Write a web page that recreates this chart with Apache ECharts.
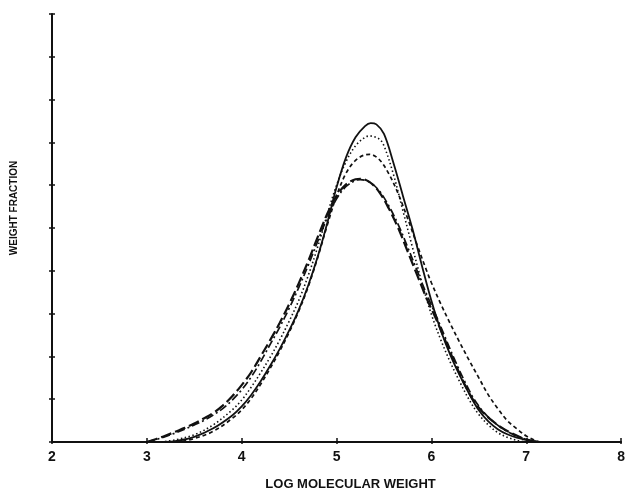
<!DOCTYPE html>
<html>
<head>
<meta charset="utf-8">
<script src="https://cdn.jsdelivr.net/npm/echarts@6/dist/echarts.min.js"></script>
<style>html,body{margin:0;padding:0;background:#fff;overflow:hidden}#c{width:628px;height:496px}</style>
</head>
<body>
<div id="c"></div>
<script>
const xTicks = [2, 3, 4, 5, 6, 7, 8];
const xTitle = 'LOG MOLECULAR WEIGHT';
const yTitle = 'WEIGHT FRACTION';

const solidCurve = [[3.2,0],[3.3,0.02],[3.5,0.12],[3.7,0.32],[3.9,0.62],[4.0,0.83],[4.1,1.1],[4.2,1.42],[4.3,1.78],[4.4,2.17],[4.5,2.6],[4.6,3.08],[4.7,3.65],[4.8,4.32],[4.9,5.1],[5.0,5.95],[5.1,6.65],[5.2,7.12],[5.3,7.38],[5.36,7.45],[5.42,7.42],[5.5,7.2],[5.6,6.52],[5.7,5.75],[5.8,4.98],[5.9,4.12],[6.0,3.3],[6.1,2.6],[6.2,2.03],[6.3,1.55],[6.4,1.12],[6.5,0.74],[6.6,0.48],[6.7,0.3],[6.8,0.18],[6.9,0.1],[7.0,0.05],[7.1,0.01],[7.15,0]];

const dottedCurve = [[3.15,0],[3.3,0.05],[3.5,0.17],[3.7,0.4],[3.9,0.75],[4.0,0.98],[4.1,1.28],[4.2,1.62],[4.3,1.98],[4.4,2.38],[4.5,2.82],[4.6,3.3],[4.7,3.88],[4.8,4.55],[4.9,5.3],[5.0,6.0],[5.1,6.55],[5.2,6.92],[5.3,7.12],[5.35,7.15],[5.45,7.08],[5.5,6.92],[5.6,6.25],[5.7,5.4],[5.8,4.55],[5.9,3.72],[6.0,2.98],[6.1,2.38],[6.2,1.86],[6.3,1.4],[6.4,0.98],[6.5,0.64],[6.6,0.4],[6.7,0.22],[6.8,0.11],[6.9,0.04],[7.0,0]];

const shortDashCurve = [[3.3,0],[3.4,0.03],[3.5,0.08],[3.7,0.25],[3.9,0.55],[4.0,0.75],[4.1,1.02],[4.2,1.35],[4.3,1.72],[4.4,2.12],[4.5,2.56],[4.6,3.05],[4.7,3.62],[4.8,4.3],[4.9,5.05],[5.0,5.75],[5.1,6.28],[5.2,6.58],[5.3,6.71],[5.35,6.72],[5.45,6.6],[5.55,6.27],[5.65,5.8],[5.75,5.22],[5.85,4.6],[5.95,4.0],[6.0,3.72],[6.1,3.22],[6.2,2.76],[6.3,2.32],[6.4,1.9],[6.5,1.5],[6.6,1.1],[6.7,0.78],[6.8,0.5],[6.9,0.31],[7.0,0.14],[7.1,0.03],[7.15,0]];

const longDashCurve = [[3.0,0],[3.1,0.07],[3.2,0.15],[3.3,0.24],[3.4,0.33],[3.5,0.43],[3.6,0.55],[3.7,0.68],[3.8,0.85],[3.9,1.07],[4.0,1.33],[4.1,1.63],[4.2,2.0],[4.3,2.38],[4.4,2.78],[4.5,3.22],[4.6,3.7],[4.7,4.22],[4.8,4.78],[4.9,5.32],[5.0,5.75],[5.1,6.02],[5.2,6.14],[5.25,6.15],[5.35,6.07],[5.45,5.84],[5.55,5.46],[5.65,5.0],[5.75,4.45],[5.85,3.9],[5.95,3.35],[6.05,2.87],[6.15,2.35],[6.25,1.83],[6.35,1.35],[6.45,0.95],[6.55,0.68],[6.65,0.48],[6.75,0.32],[6.85,0.2],[6.95,0.1],[7.05,0.03],[7.15,0]];

const dashDotCurve = [[3.0,0],[3.1,0.06],[3.2,0.13],[3.3,0.21],[3.4,0.3],[3.5,0.4],[3.6,0.5],[3.7,0.63],[3.8,0.78],[3.9,0.98],[4.0,1.22],[4.1,1.52],[4.2,1.88],[4.3,2.28],[4.4,2.68],[4.5,3.12],[4.6,3.6],[4.7,4.12],[4.8,4.68],[4.9,5.23],[5.0,5.68],[5.1,5.97],[5.2,6.11],[5.25,6.13],[5.35,6.07],[5.45,5.87],[5.55,5.52],[5.65,5.08],[5.75,4.55],[5.85,4.0],[5.95,3.45],[6.05,2.95],[6.15,2.42],[6.25,1.9],[6.35,1.42],[6.45,1.0],[6.55,0.7],[6.65,0.48],[6.75,0.31],[6.85,0.19],[6.95,0.1],[7.05,0.03],[7.15,0]];

const ink = '#111';
const font = 'Liberation Sans, Arial, sans-serif';

function mkSeries(name, data, type, width) {
  return {
    name, type: 'line', data, smooth: 0.35, symbol: 'none', xAxisIndex: 0, yAxisIndex: 0,
    lineStyle: { color: ink, width, type }, z: 3
  };
}

const chart = echarts.init(document.getElementById('c'));
chart.setOption({
  animation: false,
  backgroundColor: '#fff',
  grid: { left: 52, right: 4, top: 14, bottom: 50, containLabel: false },
  xAxis: [{
    type: 'value', min: xTicks[0], max: xTicks[xTicks.length - 1], interval: 1,
    axisLine: { lineStyle: { color: ink, width: 2 } },
    axisTick: { inside: true, length: 4, lineStyle: { color: ink, width: 1.5 } },
    axisLabel: { margin: 8, color: ink, fontSize: 14, fontWeight: 'bold', fontFamily: font },
    splitLine: { show: false },
    name: xTitle, nameLocation: 'middle', nameGap: 36,
    nameTextStyle: { color: ink, fontSize: 13, fontWeight: 'bold', fontFamily: font, padding: [0, 0, 0, 28] }
  }, {
    type: 'value', min: xTicks[0], max: xTicks[xTicks.length - 1], interval: 1, position: 'bottom',
    axisLine: { show: false },
    axisTick: { inside: false, length: 2, lineStyle: { color: ink, width: 1.5 } },
    axisLabel: { show: false }, splitLine: { show: false }
  }],
  yAxis: [{
    type: 'value', min: 0, max: 10, interval: 1,
    axisLine: { show: true, lineStyle: { color: ink, width: 2 } },
    axisTick: { show: true, inside: true, length: 3, lineStyle: { color: ink, width: 1.5 } },
    axisLabel: { show: false },
    splitLine: { show: false },
    name: yTitle, nameLocation: 'middle', nameGap: 33, nameRotate: 90,
    nameTextStyle: { color: ink, fontSize: 10, fontWeight: 'bold', fontFamily: font, padding: [0, 0, 0, 40] }
  }, {
    type: 'value', min: 0, max: 10, interval: 1, position: 'left', offset: 0,
    axisLine: { show: false },
    axisTick: { show: true, inside: false, length: 3, lineStyle: { color: ink, width: 1.5 } },
    axisLabel: { show: false }, splitLine: { show: false }
  }],
  series: [
    mkSeries('solid', solidCurve, 'solid', 1.8),
    mkSeries('dotted', dottedCurve, [1.5, 2.5], 1.6),
    mkSeries('short dash', shortDashCurve, [4, 3], 1.7),
    mkSeries('long dash', longDashCurve, [11, 4], 2.2),
    mkSeries('dash dot', dashDotCurve, [8, 3, 2, 3], 1.7)
  ]
});
</script>
</body>
</html>
